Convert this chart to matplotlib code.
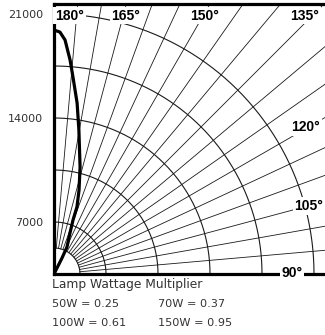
import numpy as np
import matplotlib
matplotlib.use("Agg")
import matplotlib.pyplot as plt

# candela curve (chart angle in degrees, 180 = up, 90 = horizontal)
curve_angle = [180, 178.6, 177.3, 175.7, 174.5, 172.3, 170.2, 166.3, 163.4,
               161.1, 160.6, 158.7, 154.3, 153.4, 153.4, 153.4]
curve_cd = [16420, 16290, 15770, 14440, 13320, 11610, 9840, 7410, 5900,
            4770, 3850, 2960, 2020, 1200, 450, 0]

rings = [1750, 3500, 7000, 10500, 14000, 17500]
spoke_angles = list(range(95, 180, 5))
tick_pos = [3500, 10500, 17500]
tick_labels = ["7000", "14000", "21000"]
angle_labels = ["180°", "165°", "150°", "135°", "120°", "105°", "90°"]
multipliers = [["50W = 0.25", "70W = 0.37"], ["100W = 0.61", "150W = 0.95"]]

W, H = 325, 335
k = 17500 / 260.0   # candela per pixel
fig = plt.figure(figsize=(W / 100, H / 100), dpi=100)
ox, oy = 54, 274
ax = fig.add_axes([ox / W, (H - oy) / H, (W - ox) / W, (oy - 4) / H])
ax.set_xlim(0, (W - ox) * k)
ax.set_ylim(0, (oy - 4) * k)


def xy(a, r):
    t = np.radians(180 - np.asarray(a, dtype=float))
    return np.asarray(r) * np.sin(t), np.asarray(r) * np.cos(t)


# rings
th = np.linspace(90, 180, 200)
for r in rings:
    x, y = xy(th, r)
    ax.plot(x, y, color="#1a1a1a", lw=0.8)

# spokes
for a in spoke_angles:
    x, y = xy([a, a], [rings[0], 40000])
    ax.plot(x, y, color="#1a1a1a", lw=0.6)

x, y = xy(curve_angle, curve_cd)
ax.plot(x, y, color="black", lw=2.3, solid_capstyle="round", zorder=5)


def px(p, q):
    return (p - ox) * k, (oy - q) * k


label_px = [(55, 15.5, "left"), (126, 15.5, "center"), (205, 15.5, "center"),
            (305, 15.5, "center"), (306, 127, "center"), (309, 206, "center"),
            (292, 273, "center")]
for (p, q, ha), s in zip(label_px, angle_labels):
    xx, yy = px(p, q)
    ax.text(xx, yy, s, ha=ha, va="center", fontsize=10, fontweight="bold",
            family="Liberation Sans", zorder=6,
            bbox=dict(facecolor="white", edgecolor="none", pad=1.2))

for side in ["left", "bottom", "top"]:
    ax.spines[side].set_linewidth(2.3)
    ax.spines[side].set_color("black")
ax.spines["right"].set_visible(False)
ax.set_xticks([])
ax.set_yticks(tick_pos)
ax.set_yticklabels(tick_labels, fontsize=8, color="#333333")
ax.tick_params(axis="y", length=0, pad=8)

fig.text(52 / W, (H - 288.3) / H, "Lamp Wattage Multiplier", fontsize=8.8,
         color="#333333", va="baseline")
for row, yb in zip(multipliers, [307.3, 326]):
    for s, xl in zip(row, [52, 158]):
        fig.text(xl / W, (H - yb) / H, s, fontsize=8.1, color="#333333",
                 va="baseline")

fig.savefig("out.png", dpi=100)
